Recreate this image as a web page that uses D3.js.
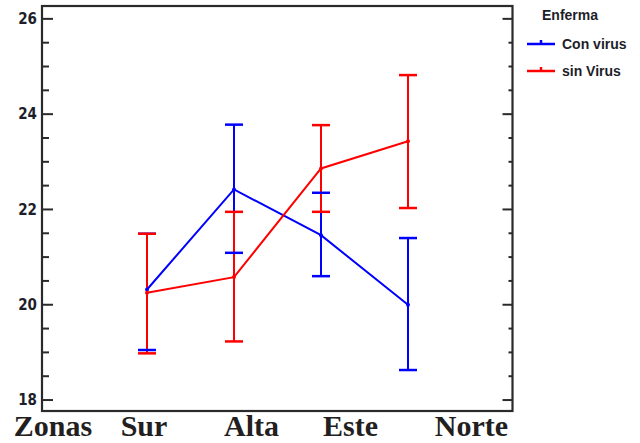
<!DOCTYPE html>
<html>
<head>
<meta charset="utf-8">
<script src="https://cdn.jsdelivr.net/npm/d3@7"></script>
<style>
  html, body { margin: 0; padding: 0; background: #fff; }
  svg { display: block; }
</style>
</head>
<body>
<svg id="chart" width="640" height="443"></svg>
<script>
// ---- data ----
const zones = ["Sur", "Alta", "Este", "Norte"];
const axisLabels = ["Zonas", "Sur", "Alta", "Este", "Norte"];
const seriesNames = ["Con virus", "sin Virus"];
const legendTitle = "Enferma";
const conVirusMean  = [20.32, 22.42, 21.46, 20.00];
const conVirusLower = [19.05, 21.09, 20.60, 18.63];
const conVirusUpper = [21.49, 23.78, 22.35, 21.40];
const sinVirusMean  = [20.25, 20.58, 22.86, 23.43];
const sinVirusLower = [18.98, 19.23, 21.95, 22.03];
const sinVirusUpper = [21.49, 21.95, 23.77, 24.82];
const yTicks = [18, 20, 22, 24, 26];
const yMinorTicks = d3.range(18, 26.01, 0.5);

(function () {
const colors = ["#0000ff", "#ff0000"];
const series = [
  { name: seriesNames[0], mean: conVirusMean, lower: conVirusLower, upper: conVirusUpper, color: colors[0] },
  { name: seriesNames[1], mean: sinVirusMean, lower: sinVirusLower, upper: sinVirusUpper, color: colors[1] }
];

const svg = d3.select("#chart");
const mLeft = 42, mRight = 512.5, mTop = 6, mBottom = 411;

const x = d3.scalePoint().domain(zones).range([mLeft, mRight]).padding(1.18).round(true);
const y = d3.scaleLinear().domain([17.77, 26.27]).range([mBottom, mTop]);

const axisColor = "#2a2a2a";
const tickFont = "'Liberation Sans Narrow', 'Arial Narrow', 'DejaVu Sans Condensed', sans-serif";

// minor ticks left and right
const minor = yMinorTicks.filter(v => !yTicks.includes(v));
svg.append("g").selectAll("line").data(minor).join("line")
  .attr("x1", mLeft).attr("x2", mLeft + 7)
  .attr("y1", d => y(d)).attr("y2", d => y(d))
  .attr("stroke", axisColor).attr("stroke-width", 2);
svg.append("g").selectAll("line").data(minor).join("line")
  .attr("x1", mRight).attr("x2", mRight - 4)
  .attr("y1", d => y(d)).attr("y2", d => y(d))
  .attr("stroke", axisColor).attr("stroke-width", 2);
// major ticks
svg.append("g").selectAll("line").data(yTicks).join("line")
  .attr("x1", mLeft).attr("x2", mLeft + 11)
  .attr("y1", d => y(d)).attr("y2", d => y(d))
  .attr("stroke", axisColor).attr("stroke-width", 2);
svg.append("g").selectAll("line").data(yTicks).join("line")
  .attr("x1", mRight).attr("x2", mRight - 10)
  .attr("y1", d => y(d)).attr("y2", d => y(d))
  .attr("stroke", axisColor).attr("stroke-width", 2);

// tick labels
svg.append("g").selectAll("text").data(yTicks).join("text")
  .attr("x", 37).attr("y", d => y(d))
  .attr("dy", "0.34em")
  .attr("text-anchor", "end")
  .attr("font-family", tickFont)
  .attr("font-weight", "bold")
  .attr("font-size", 15)
  .attr("fill", "#1e1e2a")
  .text(d => d);

// frame
svg.append("rect")
  .attr("x", mLeft).attr("y", mTop)
  .attr("width", mRight - mLeft).attr("height", mBottom - mTop)
  .attr("fill", "none").attr("stroke", axisColor).attr("stroke-width", 2.2);

// error bars: verticals (blue first, red on top)
const capHalf = 9;
series.forEach(s => {
  svg.append("g").selectAll("line").data(zones).join("line")
    .attr("x1", d => x(d)).attr("x2", d => x(d))
    .attr("y1", (d, i) => y(s.lower[i])).attr("y2", (d, i) => y(s.upper[i]))
    .attr("stroke", s.color).attr("stroke-width", 2);
});
// caps
series.forEach(s => {
  const g = svg.append("g");
  ["lower", "upper"].forEach(k => {
    g.append("g").selectAll("line").data(zones).join("line")
      .attr("x1", d => x(d) - capHalf).attr("x2", d => x(d) + capHalf)
      .attr("y1", (d, i) => y(s[k][i])).attr("y2", (d, i) => y(s[k][i]))
      .attr("stroke", s.color).attr("stroke-width", 2.5);
  });
});
// mean lines
series.forEach(s => {
  const line = d3.line().x((d, i) => x(zones[i])).y(d => y(d));
  svg.append("path").datum(s.mean)
    .attr("d", line)
    .attr("fill", "none").attr("stroke", s.color).attr("stroke-width", 2);
  svg.append("g").selectAll("circle").data(s.mean).join("circle")
    .attr("cx", (d, i) => x(zones[i])).attr("cy", d => y(d))
    .attr("r", 2).attr("fill", s.color);
});

// x labels (large serif)
const labelX = d3.scaleOrdinal().domain(axisLabels).range([53, 144, 251.5, 350.5, 471.5]);
svg.append("g").selectAll("text").data(axisLabels).join("text")
  .attr("x", d => labelX(d)).attr("y", 436)
  .attr("text-anchor", "middle")
  .attr("font-family", "'Liberation Serif', 'Times New Roman', serif")
  .attr("font-weight", "bold")
  .attr("font-size", 30)
  .attr("fill", "#231f20")
  .text(d => d);

// legend
const legend = svg.append("g");
legend.append("text")
  .attr("x", 542).attr("y", 20)
  .attr("font-family", "'Liberation Sans', Arial, sans-serif")
  .attr("font-weight", "bold").attr("font-size", 14)
  .attr("fill", "#1e1e2a")
  .text(legendTitle);
series.forEach((s, i) => {
  const ly = 44 + i * 27;
  legend.append("line")
    .attr("x1", 527).attr("x2", 555).attr("y1", ly).attr("y2", ly)
    .attr("stroke", s.color).attr("stroke-width", 2.5);
  legend.append("line")
    .attr("x1", 541).attr("x2", 541).attr("y1", ly).attr("y2", ly - 4)
    .attr("stroke", s.color).attr("stroke-width", 2.5);
  legend.append("text")
    .attr("x", 562).attr("y", ly + 4.5)
    .attr("font-family", "'Liberation Sans', Arial, sans-serif")
    .attr("font-weight", "bold").attr("font-size", 14)
    .attr("fill", "#1e1e2a")
    .text(s.name);
});
})();
</script>
</body>
</html>
